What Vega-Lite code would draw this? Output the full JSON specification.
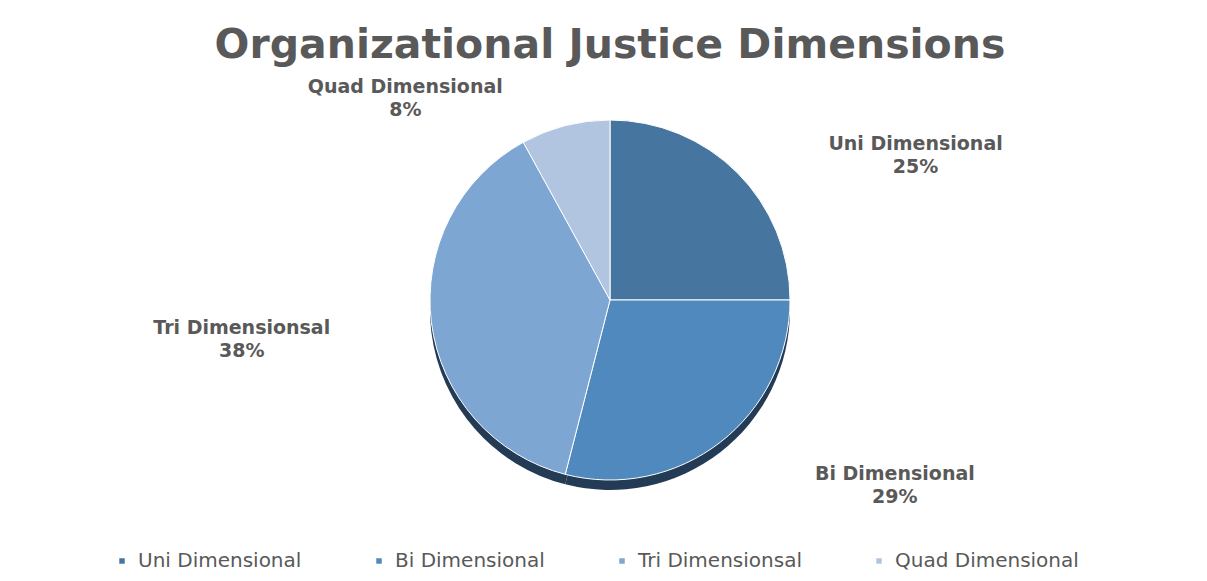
{
  "$schema": "https://vega.github.io/schema/vega-lite/v6.json",
  "autosize": {"type": "none"},
  "width": 1204,
  "height": 580,
  "padding": {"left": 8, "top": 10, "right": 0, "bottom": 0},
  "background": "white",
  "title": {
    "text": "Organizational Justice Dimensions",
    "anchor": "middle",
    "orient": "top",
    "baseline": "alphabetic",
    "offset": -89,
    "font": "DejaVu Sans",
    "fontSize": 41,
    "fontWeight": "bold",
    "color": "#595959"
  },
  "config": {"view": {"stroke": null}},
  "data": {
    "values": [
      {"category": "Uni Dimensional", "percent": 25, "rank": 1, "side": "right"},
      {"category": "Bi Dimensional", "percent": 29, "rank": 2, "side": "right"},
      {"category": "Tri Dimensionsal", "percent": 38, "rank": 3, "side": "left"},
      {"category": "Quad Dimensional", "percent": 8, "rank": 4, "side": "left"}
    ]
  },
  "transform": [
    {"stack": "percent", "groupby": [], "sort": [{"field": "rank", "order": "ascending"}], "as": ["start", "end"]},
    {"calculate": "(datum.start + datum.end) / 2", "as": "mid"},
    {"calculate": "[datum.category, datum.percent + '%']", "as": "labelLines"}
  ],
  "layer": [
    {
      "mark": {"type": "arc", "outerRadius": 180, "yOffset": 10, "color": "#243b55"},
      "encoding": {
        "theta": {"field": "start", "type": "quantitative", "scale": {"domain": [0, 100]}},
        "theta2": {"field": "end"}
      }
    },
    {
      "mark": {"type": "arc", "outerRadius": 180, "stroke": "white", "strokeWidth": 1},
      "encoding": {
        "theta": {"field": "start", "type": "quantitative", "scale": {"domain": [0, 100]}},
        "theta2": {"field": "end"},
        "color": {
          "field": "category",
          "type": "nominal",
          "scale": {
            "domain": ["Uni Dimensional", "Bi Dimensional", "Tri Dimensionsal", "Quad Dimensional"],
            "range": ["#46769f", "#4f89bd", "#7ea6d3", "#b1c5e0"]
          },
          "legend": {
            "title": null,
            "orient": "none",
            "direction": "horizontal",
            "legendX": 104,
            "legendY": 541,
            "symbolType": "square",
            "symbolSize": 30,
            "symbolStrokeWidth": 0,
            "labelFont": "DejaVu Sans",
            "labelFontSize": 20,
            "labelColor": "#595959",
            "labelLimit": 400,
            "columnPadding": 67,
            "labelOffset": 6
          }
        }
      }
    },
    {
      "transform": [{"filter": "datum.side == 'right'"}],
      "mark": {"type": "text", "radius": 220, "dx": 150, "align": "center", "baseline": "middle", "font": "DejaVu Sans", "fontSize": 19, "fontWeight": "bold", "color": "#595959", "lineHeight": 23},
      "encoding": {
        "theta": {"field": "mid", "type": "quantitative", "scale": {"domain": [0, 100]}},
        "text": {"field": "labelLines"}
      }
    },
    {
      "transform": [{"filter": "datum.side == 'left'"}],
      "mark": {"type": "text", "radius": 220, "dx": -150, "align": "center", "baseline": "middle", "font": "DejaVu Sans", "fontSize": 19, "fontWeight": "bold", "color": "#595959", "lineHeight": 23},
      "encoding": {
        "theta": {"field": "mid", "type": "quantitative", "scale": {"domain": [0, 100]}},
        "text": {"field": "labelLines"}
      }
    }
  ]
}
